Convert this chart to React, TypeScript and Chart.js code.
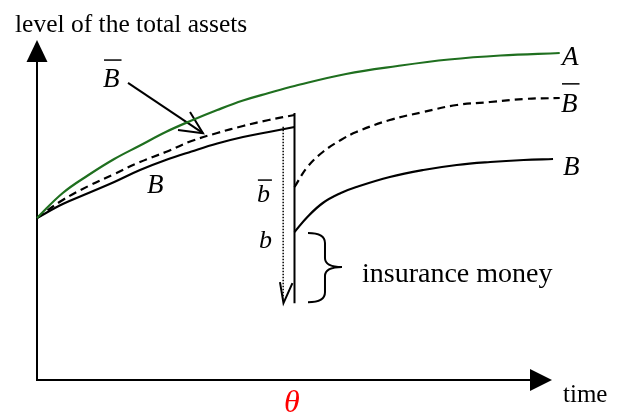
import React, { useEffect, useRef } from "react";
import { Chart, registerables } from "chart.js";
Chart.register(...registerables);

// time units: origin 0, theta = 5, axis end = 10 ; asset units: origin 0, axis top 10
const THETA = 5;
const timeA = [0, 0.5, 1, 1.5, 2, 2.5, 3, 3.5, 4, 4.5, 5, 6, 7, 8, 9, 10.15];
const assetsA = [4.765, 5.5, 6.029, 6.5, 6.897, 7.294, 7.632, 7.941, 8.221, 8.441, 8.647, 9.0, 9.235, 9.426, 9.544, 9.618];
const timePre = [0, 0.5, 1, 1.5, 2, 2.5, 3, 3.5, 4, 4.5, 5];
const assetsBbarPre = [4.765, 5.294, 5.706, 6.059, 6.412, 6.706, 7.029, 7.265, 7.471, 7.647, 7.794];
const assetsBPre = [4.765, 5.176, 5.5, 5.824, 6.176, 6.471, 6.721, 6.956, 7.147, 7.294, 7.441];
const timePostBbar = [5, 5.25, 5.55, 5.9, 6.2, 6.85, 7.5, 8.15, 8.8, 9.45, 10.15];
const assetsBbarPost = [5.676, 6.265, 6.706, 7.059, 7.294, 7.647, 7.882, 8.088, 8.176, 8.265, 8.294];
const timePostB = [5, 5.25, 5.55, 5.9, 6.2, 6.85, 7.5, 8.15, 8.8, 9.45, 10.02];
const assetsBPost = [4.353, 4.794, 5.206, 5.5, 5.676, 5.971, 6.176, 6.324, 6.412, 6.471, 6.5];
const dropTop = 7.853;
const dropBottom = 2.26;
const dottedTime = 4.78;
const dottedTop = 7.45;
const dottedBottom = 2.4;
const vArrowTime = [4.718, 4.786, 4.96];
const vArrowAssets = [2.88, 2.26, 2.85];
const pointerTime = [1.767, 3.223];
const pointerAssets = [8.74, 7.26];
const pointerHeadTime = [2.971, 3.223, 2.738];
const pointerHeadAssets = [7.88, 7.26, 7.35];

const zip = (xs: number[], ys: number[]) => xs.map((x, i) => ({ x, y: ys[i] }));

const SERIF = "'Liberation Serif', 'Times New Roman', serif";
const GREEN = "#1f6f1f";

export default function App() {
  const ref = useRef<HTMLCanvasElement | null>(null);
  useEffect(() => {
    document.body.style.margin = "0";
    const canvas = ref.current!;
    const decor = {
      id: "decor",
      beforeDatasetsDraw(chart: any) {
        const ctx = chart.ctx;
        const X = (v: number) => chart.scales.x.getPixelForValue(v);
        const Y = (v: number) => chart.scales.y.getPixelForValue(v);
        ctx.save();
        ctx.strokeStyle = "#000";
        ctx.fillStyle = "#000";
        ctx.lineWidth = 2;
        ctx.beginPath();
        ctx.moveTo(X(0), Y(9.4));
        ctx.lineTo(X(0), Y(0));
        ctx.lineTo(X(9.6), Y(0));
        ctx.stroke();
        ctx.beginPath();
        ctx.moveTo(X(0), Y(10));
        ctx.lineTo(X(0) - 10.5, Y(9.35));
        ctx.lineTo(X(0) + 10.5, Y(9.35));
        ctx.closePath();
        ctx.fill();
        ctx.beginPath();
        ctx.moveTo(X(10), Y(0));
        ctx.lineTo(X(9.573), Y(0) - 11);
        ctx.lineTo(X(9.573), Y(0) + 11);
        ctx.closePath();
        ctx.fill();
        ctx.restore();
      },
      afterDatasetsDraw(chart: any) {
        const ctx = chart.ctx;
        const X = (v: number) => chart.scales.x.getPixelForValue(v);
        const Y = (v: number) => chart.scales.y.getPixelForValue(v);
        ctx.save();
        ctx.fillStyle = "#000";
        ctx.strokeStyle = "#000";
        ctx.textAlign = "left";
        ctx.textBaseline = "alphabetic";
        const txt = (s: string, t: number, a: number, font: string, bar?: number, color = "#000") => {
          ctx.font = font;
          ctx.fillStyle = color;
          ctx.fillText(s, X(t), Y(a));
          if (bar !== undefined) {
            const w = ctx.measureText(s).width;
            ctx.lineWidth = 1.5;
            ctx.beginPath();
            ctx.moveTo(X(t) + 1, Y(bar));
            ctx.lineTo(X(t) + w + 2, Y(bar));
            ctx.stroke();
          }
        };
        const ital = `italic 27px ${SERIF}`;
        txt("level of the total assets", -0.427, 10.24, `25.5px ${SERIF}`);
        txt("A", 10.194, 9.265, ital);
        txt("B", 10.175, 7.88, ital, 8.71);
        txt("B", 10.214, 6.03, ital);
        txt("B", 1.282, 8.62, ital, 9.41);
        txt("B", 2.136, 5.5, ital);
        txt("b", 4.27, 5.235, `italic 26px ${SERIF}`, 5.88);
        txt("b", 4.31, 3.88, `italic 26px ${SERIF}`);
        txt("insurance money", 6.311, 2.88, `28px ${SERIF}`);
        txt("time", 10.214, -0.647, `25px ${SERIF}`);
        ctx.textAlign = "center";
        txt("\u03B8", THETA - 0.05, -0.94, `italic 32px ${SERIF}`, undefined, "#ff0000");
        // brace
        ctx.strokeStyle = "#000";
        ctx.lineWidth = 2;
        const x0 = X(5.262), xm = X(5.592), xp = X(5.922);
        const yt = Y(4.32), ym = Y(3.32), yb = Y(2.29);
        ctx.beginPath();
        ctx.moveTo(x0, yt);
        ctx.quadraticCurveTo(xm, yt, xm, yt + 10);
        ctx.lineTo(xm, ym - 9);
        ctx.quadraticCurveTo(xm, ym, xp, ym);
        ctx.quadraticCurveTo(xm, ym, xm, ym + 9);
        ctx.lineTo(xm, yb - 10);
        ctx.quadraticCurveTo(xm, yb, x0, yb);
        ctx.stroke();
        ctx.restore();
      },
    };
    const base = { pointRadius: 0, borderColor: "#000", borderWidth: 2, fill: false, tension: 0 };
    const curve = { ...base, borderWidth: 2.2, tension: 0.4 };
    const chart = new Chart(canvas, {
      type: "line",
      data: {
        datasets: [
          { ...curve, data: zip(timeA, assetsA), borderColor: GREEN },
          { ...curve, data: zip(timePre, assetsBbarPre), borderDash: [8, 5] },
          { ...curve, data: zip(timePre, assetsBPre) },
          { ...curve, data: zip(timePostBbar, assetsBbarPost), borderDash: [8, 5] },
          { ...curve, data: zip(timePostB, assetsBPost) },
          { ...base, data: zip([THETA, THETA], [dropTop, dropBottom]) },
          { ...base, data: zip([dottedTime, dottedTime], [dottedTop, dottedBottom]), borderWidth: 1.5, borderDash: [1.5, 1.5] },
          { ...base, data: zip(vArrowTime, vArrowAssets) },
          { ...base, data: zip(pointerTime, pointerAssets) },
          { ...base, data: zip(pointerHeadTime, pointerHeadAssets) },
        ] as any,
      },
      options: {
        animation: false,
        responsive: false,
        events: [],
        layout: { padding: 0 },
        plugins: { legend: { display: false }, tooltip: { enabled: false } },
        scales: {
          x: { type: "linear", display: false, min: -37 / 51.5, max: 580 / 51.5 },
          y: { type: "linear", display: false, min: -36 / 34, max: 380 / 34 },
        },
      },
      plugins: [decor],
    });
    return () => chart.destroy();
  }, []);
  return (
    <div style={{ width: 617, height: 416, background: "#fff" }}>
      <canvas ref={ref} width={617} height={416} style={{ display: "block" }} />
    </div>
  );
}
